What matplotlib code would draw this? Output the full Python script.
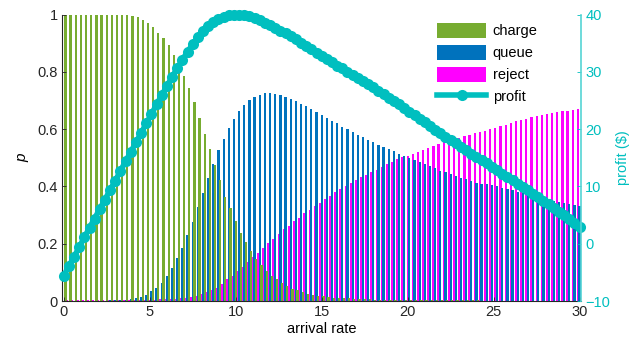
import numpy as np
import matplotlib
matplotlib.use('Agg')
import matplotlib.pyplot as plt

plt.rcParams['font.family'] = ['Liberation Sans', 'DejaVu Sans']
plt.rcParams['font.size'] = 10

# arrival rates 0, 0.3, ..., 30
arrival = np.linspace(0, 30, 101)

charge = [1.0, 1.0, 1.0, 1.0, 1.0, 1.0, 1.0, 1.0, 1.0, 1.0,
          1.0, 1.0, 0.998, 0.995, 0.991, 0.981, 0.969, 0.955, 0.934, 0.917,
          0.894, 0.859, 0.824, 0.785, 0.742, 0.695, 0.640, 0.583, 0.531, 0.475,
          0.422, 0.364, 0.324, 0.279, 0.237, 0.205, 0.176, 0.145, 0.126, 0.105,
          0.088, 0.077, 0.062, 0.052, 0.043, 0.038, 0.032, 0.026, 0.021, 0.018,
          0.016, 0.014, 0.012, 0.011, 0.010, 0.009, 0.008, 0.007, 0.006, 0.006,
          0.005, 0.005, 0.004, 0.004, 0.004, 0.003, 0.003, 0.003, 0.003, 0.002,
          0.002, 0.002, 0.002, 0.002, 0.002, 0.002, 0.002, 0.002, 0.002, 0.002,
          0.002, 0.001, 0.001, 0.001, 0.001, 0.001, 0.001, 0.001, 0.001, 0.001,
          0.001, 0.001, 0.001, 0.001, 0.001, 0.001, 0.001, 0.001, 0.001, 0.001,
          0.001]

queue = [0.0, 0.0, 0.0, 0.0, 0.0, 0.001, 0.001, 0.001, 0.001, 0.002,
         0.003, 0.004, 0.005, 0.006, 0.009, 0.013, 0.021, 0.035, 0.047, 0.062,
         0.088, 0.116, 0.150, 0.185, 0.230, 0.276, 0.328, 0.377, 0.429, 0.478,
         0.527, 0.565, 0.604, 0.635, 0.663, 0.684, 0.701, 0.711, 0.720, 0.726,
         0.726, 0.722, 0.719, 0.712, 0.705, 0.698, 0.688, 0.680, 0.670, 0.660,
         0.649, 0.640, 0.629, 0.620, 0.608, 0.600, 0.590, 0.579, 0.572, 0.562,
         0.555, 0.546, 0.538, 0.531, 0.522, 0.513, 0.506, 0.498, 0.492, 0.485,
         0.478, 0.471, 0.463, 0.455, 0.449, 0.443, 0.436, 0.430, 0.425, 0.418,
         0.413, 0.410, 0.407, 0.404, 0.400, 0.396, 0.391, 0.387, 0.381, 0.377,
         0.373, 0.368, 0.362, 0.358, 0.354, 0.350, 0.346, 0.342, 0.339, 0.336,
         0.333]

reject = [0.003, 0.003, 0.003, 0.003, 0.003, 0.003, 0.003, 0.003, 0.003, 0.003,
          0.003, 0.003, 0.003, 0.004, 0.004, 0.004, 0.005, 0.005, 0.005, 0.006,
          0.006, 0.007, 0.008, 0.010, 0.012, 0.015, 0.017, 0.023, 0.031, 0.040,
          0.047, 0.059, 0.076, 0.088, 0.105, 0.119, 0.136, 0.155, 0.169, 0.186,
          0.204, 0.215, 0.234, 0.251, 0.262, 0.279, 0.290, 0.307, 0.318, 0.332,
          0.342, 0.356, 0.366, 0.380, 0.391, 0.402, 0.412, 0.422, 0.433, 0.440,
          0.450, 0.459, 0.469, 0.479, 0.486, 0.494, 0.501, 0.507, 0.514, 0.521,
          0.527, 0.533, 0.540, 0.547, 0.554, 0.561, 0.565, 0.570, 0.576, 0.580,
          0.585, 0.590, 0.594, 0.599, 0.603, 0.610, 0.616, 0.622, 0.628, 0.632,
          0.637, 0.641, 0.645, 0.649, 0.653, 0.657, 0.659, 0.662, 0.664, 0.667,
          0.670]

profit = [-5.6, -3.9, -2.3, -0.6, 1.1, 2.8, 4.4, 6.1, 7.7, 9.4,
          11.0, 12.7, 14.4, 16.0, 17.7, 19.3, 21.0, 22.6, 24.3, 25.9,
          27.5, 29.1, 30.6, 32.1, 33.5, 34.8, 36.0, 37.1, 38.0, 38.7,
          39.2, 39.6, 39.85, 40.0, 40.0, 39.9, 39.7, 39.4, 39.0, 38.6,
          38.2, 37.7, 37.2, 36.7, 36.2, 35.7, 35.1, 34.5, 33.9, 33.3,
          32.8, 32.2, 31.7, 31.1, 30.6, 30.0, 29.5, 28.9, 28.4, 27.9,
          27.3, 26.7, 26.1, 25.5, 24.9, 24.3, 23.6, 23.0, 22.4, 21.8,
          21.2, 20.5, 19.9, 19.3, 18.7, 18.1, 17.5, 16.9, 16.3, 15.7,
          15.1, 14.6, 14.0, 13.4, 12.8, 12.2, 11.6, 11.1, 10.5, 9.9,
          9.3, 8.7, 8.1, 7.5, 6.9, 6.3, 5.6, 5.0, 4.3, 3.7,
          3.0]

green = '#77AC30'
blue = '#0072BD'
magenta = '#FF00FF'
cyan = '#00BFBF'

fig = plt.figure(figsize=(6.36, 3.43), dpi=100)
ax1 = fig.add_axes([0.0975, 0.1224, 0.8160, 0.8353])

w = 0.13
d = 0.1
b_rej = ax1.bar(arrival - d, reject, w, color=magenta, linewidth=0, antialiased=False, label='reject')
b_que = ax1.bar(arrival, queue, w, color=blue, linewidth=0, antialiased=False, label='queue')
b_chg = ax1.bar(arrival + d, charge, w, color=green, linewidth=0, antialiased=False, label='charge')

ax1.set_xlim(-0.1, 30.08)
ax1.set_ylim(0, 1)
ax1.set_xticks(np.arange(0, 31, 5))
ax1.set_yticks([0, 0.2, 0.4, 0.6, 0.8, 1])
ax1.set_yticklabels(['0', '0.2', '0.4', '0.6', '0.8', '1'])
ax1.tick_params(direction='in', length=3, width=0.6, labelsize=10.5, colors='#262626', pad=3)
ax1.set_xlabel('arrival rate', fontsize=10.5, labelpad=2)
ax1.set_ylabel('p', fontsize=11, fontstyle='italic', labelpad=6)
ax1.spines['top'].set_visible(False)
ax1.spines['right'].set_visible(False)
ax1.spines['left'].set_color('#262626')
ax1.spines['bottom'].set_color('#262626')

ax2 = ax1.twinx()
ln, = ax2.plot(arrival, profit, color=cyan, linewidth=4, marker='o',
               markersize=8, markeredgewidth=0, label='profit', clip_on=False)
ax2.set_ylim(-10, 40)
ax2.set_yticks([-10, 0, 10, 20, 30, 40])
ax2.tick_params(direction='in', length=3, width=0.6, labelsize=10.5, colors=cyan, pad=3)
ax2.set_ylabel('profit ($)', color=cyan, fontsize=10.5, labelpad=4)
for s in ['top', 'left', 'bottom']:
    ax2.spines[s].set_visible(False)
ax2.spines['right'].set_color('#55D4D4')
ax2.spines['right'].set_linewidth(1.2)

ax2.legend([b_chg, b_que, b_rej, ln], ['charge', 'queue', 'reject', 'profit'],
           loc='upper left', bbox_to_anchor=(0.722, 0.97), frameon=False,
           borderpad=0, borderaxespad=0, handlelength=3.4, handleheight=1.2,
           labelspacing=0.45, handletextpad=0.45, fontsize=10.5)

fig.savefig('out.png', dpi=100)
